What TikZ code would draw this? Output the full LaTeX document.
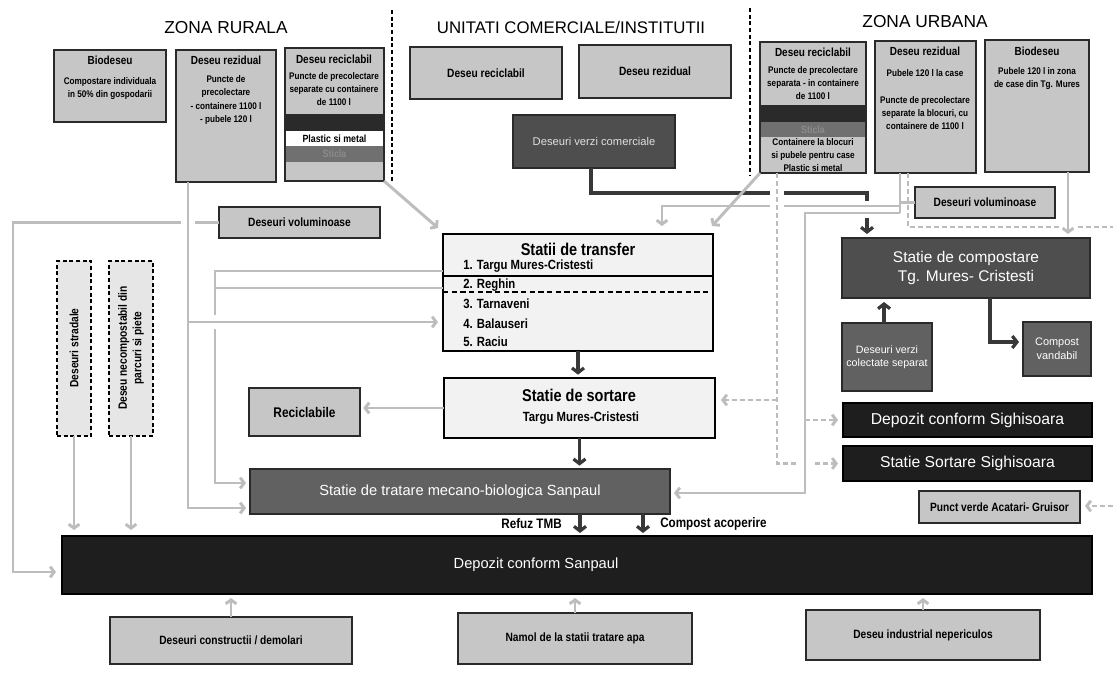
\documentclass[tikz,border=0pt]{standalone}
\usepackage{fontspec}
\setmainfont{Liberation Sans}
\newfontfamily\nar[FakeStretch=0.85]{Liberation Sans}
\usetikzlibrary{arrows.meta,calc}
\definecolor{lgfill}{HTML}{C6C6C6}
\definecolor{wfill}{HTML}{F2F2F2}
\definecolor{dgfill}{HTML}{4E4E4E}
\definecolor{bkfill}{HTML}{1E1E1E}
\definecolor{dashfill}{HTML}{E6E6E6}
\definecolor{lgline}{HTML}{BDBDBD}
\definecolor{dkline}{HTML}{383838}
\definecolor{bline}{HTML}{2A2A2A}
\definecolor{sticla}{HTML}{707070}
\definecolor{sticlatxt}{HTML}{8C8C8C}
\newcommand\mybox[7]{\node[#6,minimum width={(#4-#2)*0.75pt},minimum height={(#5-#3)*0.75pt}] (#1) at ({(#2+#4)/2},{(#3+#5)/2}) {#7};}
\tikzset{
 gbox/.style={draw=bline,line width=0.9pt,fill=lgfill,inner sep=1pt,outer sep=0pt,align=center,text=black,font=\nar\bfseries\fontsize{9}{10.5}\selectfont},
 wbox/.style={draw=black,line width=0.9pt,fill=wfill,inner sep=0pt,outer sep=0pt},
 dbox/.style={draw=bline,line width=0.9pt,fill=dgfill,inner sep=1pt,outer sep=0pt,align=center,text=white,font=\fontsize{10}{13}\selectfont},
 bbox/.style={draw=black,line width=0.9pt,fill=bkfill,inner sep=0pt,outer sep=0pt,align=center,text=white,font=\fontsize{11.8}{13}\selectfont},
 dashbox/.style={draw=black,line width=0.8pt,dash pattern=on 3pt off 2pt,fill=dashfill,inner sep=0pt,outer sep=0pt},
 bandbox/.style={draw=none,inner sep=0pt,outer sep=0pt,align=center,font=\nar\bfseries\fontsize{7.8}{9}\selectfont},
 ttl/.style={inner sep=0pt,font=\nar\bfseries\fontsize{8.8}{10}\selectfont},
 bodytxt/.style={inner sep=0pt,align=center,font=\nar\bfseries\fontsize{7.2}{9.8}\selectfont},
 itemtxt/.style={inner sep=0pt,anchor=west,font=\nar\bfseries\fontsize{10}{11}\selectfont},
 bigttl/.style={inner sep=0pt,font=\nar\bfseries\fontsize{12.8}{14}\selectfont},
 rottxt/.style={inner sep=0pt,align=center,rotate=90,font=\nar\bfseries\fontsize{9}{11}\selectfont},
 lbltxt/.style={inner sep=0pt,font=\nar\bfseries\fontsize{10.3}{11}\selectfont},
 zonetxt/.style={inner sep=0pt,font=\fontsize{13}{15}\selectfont},
 lg/.style={draw=lgline,line width=2.2pt},
 lga/.style={lg,-{Straight Barb[length=3pt,width=8pt]}},
 lgd/.style={lg,dash pattern=on 4pt off 2pt},
 lgda/.style={lgd,-{Straight Barb[length=3pt,width=8pt]}},
 dk/.style={draw=dkline,line width=2.4pt},
 dka/.style={dk,-{Straight Barb[length=3.5pt,width=9pt]}},
 wgap/.style={draw=white,line width=10pt},
 sep/.style={draw=black,line width=1.3pt,dash pattern=on 3pt off 2pt},
}
\begin{document}
\begin{tikzpicture}[x=0.75pt,y=-0.75pt]
\useasboundingbox (0,0) rectangle (1113,672);
\fill[white] (0,0) rectangle (1113,672);

% zone titles
\node[zonetxt] (zr) at (226,28) {ZONA RURALA};
\node[zonetxt,font=\fontsize{12.6}{15}\selectfont] (zc) at (571,27) {UNITATI COMERCIALE/INSTITUTII};
\node[zonetxt] (zu) at (925,22) {ZONA URBANA};
\draw[sep] (392,10) -- (392,183);
\draw[sep] (750,8) -- (750,176);

% rural boxes
\mybox{rbio}{54}{50}{166}{122}{gbox}{}
\node[ttl] (rbiot) at (110,60) {Biodeseu};
\node[bodytxt] (rbiob) at (110,89) {Compostare individuala\\in 50\% din gospodarii};
\mybox{rrez}{176}{50}{276}{182}{gbox}{}
\node[ttl] (rrezt) at (226,60) {Deseu rezidual};
\node[bodytxt] (rrezb) at (226,100) {Puncte de\\precolectare\\- containere 1100 l\\- pubele 120 l};
\mybox{rrec}{285}{48}{384}{181}{gbox}{}
\node[ttl] (rrect) at (334,59) {Deseu reciclabil};
\node[bodytxt] (rrecb) at (334,89) {Puncte de precolectare\\separate cu containere\\de 1100 l};
\mybox{rrecb1}{285}{114}{384}{131}{bandbox,fill=bline}{}
\mybox{rrecb2}{285}{131}{384}{146}{bandbox,fill=white}{Plastic si metal}
\mybox{rrecb3}{285}{146}{384}{162}{bandbox,fill=sticla,text=sticlatxt}{Sticla}
\draw[bline,line width=0.9pt] (rrec.south west) rectangle (rrec.north east);

% commercial
\mybox{crec}{410}{47}{562}{99}{gbox}{Deseu reciclabil}
\mybox{crez}{579}{45}{731}{98}{gbox}{Deseu rezidual}
\mybox{cverde}{513}{115}{675}{168}{dbox,font=\fontsize{8.4}{10}\selectfont,text=white!88!black}{Deseuri verzi comerciale}

% urban boxes
\mybox{urec}{760}{42}{866}{173}{gbox}{}
\node[ttl] (urect) at (813,52) {Deseu reciclabil};
\node[bodytxt] (urecb) at (813,83) {Puncte de precolectare\\separata - in containere\\de 1100 l};
\mybox{urecb1}{760}{105}{866}{122}{bandbox,fill=bline}{}
\mybox{urecb2}{760}{122}{866}{137}{bandbox,fill=sticla,text=sticlatxt}{Sticla}
\node[bodytxt] (urecc) at (813,155) {Containere la blocuri\\si pubele pentru case\\Plastic si metal};
\draw[bline,line width=0.9pt] (urec.south west) rectangle (urec.north east);
\mybox{urez}{875}{41}{976}{173}{gbox}{}
\node[ttl] (urezt) at (925,51) {Deseu rezidual};
\node[bodytxt] (urezb) at (925,73) {Pubele 120 l la case};
\node[bodytxt] (urezc) at (925,113) {Puncte de precolectare\\separate la blocuri, cu\\containere de 1100 l};
\mybox{ubio}{985}{40}{1089}{172}{gbox}{}
\node[ttl] (ubiot) at (1037,51) {Biodeseu};
\node[bodytxt] (ubiob) at (1037,79) {Pubele 120 l in zona\\de case din Tg. Mures};

\mybox{uvol}{915}{187}{1055}{218}{gbox}{Deseuri voluminoase}
\mybox{rvol}{219}{207}{380}{238}{gbox}{Deseuri voluminoase}

% dashed boxes
\mybox{strad}{57}{261}{91}{436}{dashbox}{}
\node[rottxt] (stradt) at (74,348) {Deseuri stradale};
\mybox{necomp}{109}{261}{153}{436}{dashbox}{}
\node[rottxt] (necompt) at (131,348) {Deseu necompostabil din\\parcuri si piete};

% statii de transfer
\mybox{tr}{443}{234}{713}{351}{wbox}{}
\node[bigttl] (trt) at (578,249) {Statii de transfer};
\node[itemtxt] (tr1) at (463,266) {1. Targu Mures-Cristesti};
\node[itemtxt] (tr2) at (463,285) {2. Reghin};
\node[itemtxt] (tr3) at (463,304) {3. Tarnaveni};
\node[itemtxt] (tr4) at (463,324) {4. Balauseri};
\node[itemtxt] (tr5) at (463,342) {5. Raciu};
\draw[black,line width=1pt] ($(tr.north west)+(0,42)$) -- ($(tr.north east)+(0,42)$);
\draw[black,line width=0.9pt,dash pattern=on 4pt off 2.5pt] ($(tr.north west)+(0,58)$) -- ($(tr.north east)+(0,58)$);

% sortare
\mybox{sort}{444}{378}{715}{438}{wbox}{}
\node[bigttl] (sortt) at (579,395) {Statie de sortare};
\node[itemtxt,anchor=center] (sortb) at (581,418) {Targu Mures-Cristesti};

\mybox{recic}{249}{388}{360}{436}{gbox,font=\nar\bfseries\fontsize{10.5}{12}\selectfont}{Reciclabile}

\mybox{tmb}{250}{469}{670}{514}{dbox,fill=black!62,font=\fontsize{11}{13}\selectfont}{Statie de tratare mecano-biologica Sanpaul}
\mybox{dep}{62}{536}{1092}{594}{bbox}{}
\node[inner sep=0pt,text=white,font=\fontsize{11}{13}\selectfont] (dept) at (536,565) {Depozit conform Sanpaul};

% right side
\mybox{comp}{842}{238}{1090}{298}{dbox,font=\fontsize{11.6}{14.5}\selectfont}{Statie de compostare\\Tg. Mures- Cristesti}
\mybox{verzi}{842}{323}{932}{391}{dbox,fill=black!62,font=\fontsize{8}{10}\selectfont}{Deseuri verzi\\colectate separat}
\mybox{cvand}{1023}{322}{1091}{376}{dbox,fill=black!62,font=\fontsize{8.2}{10.5}\selectfont}{Compost\\vandabil}
\mybox{dsig}{843}{403}{1092}{437}{bbox}{Depozit conform Sighisoara}
\mybox{ssig}{843}{446}{1092}{481}{bbox}{Statie Sortare Sighisoara}
\mybox{pverde}{919}{491}{1080}{523}{gbox}{Punct verde Acatari- Gruisor}

% bottom
\mybox{cons}{110}{617}{352}{664}{gbox}{Deseuri constructii / demolari}
\mybox{namol}{458}{613}{692}{664}{gbox}{Namol de la statii tratare apa}
\mybox{indus}{806}{610}{1040}{660}{gbox}{Deseu industrial nepericulos}

% ---------- connectors ----------
% rural voluminoase to depozit
\draw[lga] (rvol.west) -- ++(-206,0) |- ($(dep.west)+(-6,7)$);
\draw[wgap,line width=10pt] (188,218) -- (188,228);
% statii -> tratare (left side)
\draw[lga] ($(tr.north west)+(0,37)$) -- ++(-228,0) |- ($(tmb.west)+(-4,-8.5)$);
\draw[lg] ($(tr.north west)+(0,54)$) -- ++(-228,0);
\draw[wgap] (209,322) -- (221,322);
% rural rezidual
\draw[lga] ($(rrez.south west)+(12,0)$) |- ($(tmb.south west)+(-4,-6)$);
\draw[lga] ($(rrez.south west)+(12,140)$) -- ($(tr.west)+(-5,29.5)$);
% rural reciclabil
\draw[lga] (rrec.south east) -- ($(tr.north west)+(-5,-6)$);
% stradale / necompostabil
\draw[lga] (strad.south) -- ([yshift=4.5pt]strad.south |- dep.north);
\draw[lga] (necomp.south) -- ([yshift=4.5pt]necomp.south |- dep.north);
% sortare -> reciclabile
\draw[lga] (sort.west) -- ([xshift=2.5pt]recic.east |- sort.west);
% bottom inputs
\draw[lga] (cons.north) -- ([yshift=-3pt]cons.north |- dep.south);
\draw[lga] (namol.north) -- ([yshift=-3pt]namol.north |- dep.south);
\draw[lga] (indus.north) -- ([yshift=-3pt]indus.north |- dep.south);

% commercial green waste -> compostare
\draw[dka] ($(cverde.south west)+(78,0)$) -- ++(0,25) -| ($(comp.north west)+(25,-4)$);
\draw[wgap] (867,201) -- (867,218);
% urban rezidual lines
\draw[lg] ($(urez.south west)+(25,0)$) -- ++(0,40);
\draw[lga] ($(urez.south west)+(25,33)$) -| ($(tr.north east)+(-51,-8)$);
\draw[lg] (uvol.west) -- ++(-15,0);
% urban reciclabil diagonal
\draw[lga] (urec.south west) -- ($(tr.north east)+(-1,-8)$);
% dashed from urban reciclabil
\draw[wgap,line width=11pt] (777,186) -- (777,212);
\draw[lgda] ($(urec.south west)+(17,0)$) |- ($(ssig.west)+(-5,0)$);
\draw[lgda] ($(urec.south west)+(17,227)$) -- ($(sort.east)+(6,-8)$);
\draw[wgap] (805,458) -- (805,469);
% solid to tratare and Sighisoara
\draw[lga] ($(urez.south west)+(25,40)$) -- ++(-95,0) |- ($(tmb.east)+(4,1.5)$);
\draw[lgda] ($(dsig.west)+(-38,0)$) -- ($(dsig.west)+(-5,0)$);
% dashed voluminoase line to right edge
\coordinate (redge1) at (1113,227);
\draw[lgd] ($(urez.south west)+(33,0)$) |- (redge1);
\draw[wgap] (1061,227) -- (1075,227);
% urban biodeseu -> compostare
\draw[lga] ($(ubio.south west)+(83,0)$) -- ($(comp.north west)+(226,-4)$);
% punct verde
\coordinate (redge2) at (1113,506);
\draw[lgda] (redge2) -- ($(pverde.east)+(5,-1)$);

% dark flows
\draw[dka] (tr.south) -- ([yshift=2.5pt]tr.south |- sort.north);
\draw[dka] (sort.south) -- ([yshift=2.5pt]sort.south |- tmb.north);
\draw[dka] ($(verzi.north west)+(42,0)$) -- ($(comp.south west)+(42,4)$);
\draw[dka] ($(comp.south west)+(148,0)$) |- ($(cvand.west)+(-4,-7)$);
\draw[dka] ($(tmb.south west)+(330,0)$) -- ($(dep.north west)+(518,-3)$);
\draw[dka] ($(tmb.south west)+(393,0)$) -- ($(dep.north west)+(581,-3)$);
\node[lbltxt,anchor=east] (refuz) at (562,524) {Refuz TMB};
\node[lbltxt,anchor=west] (compac) at (660,524) {Compost acoperire};
\end{tikzpicture}
\end{document}
